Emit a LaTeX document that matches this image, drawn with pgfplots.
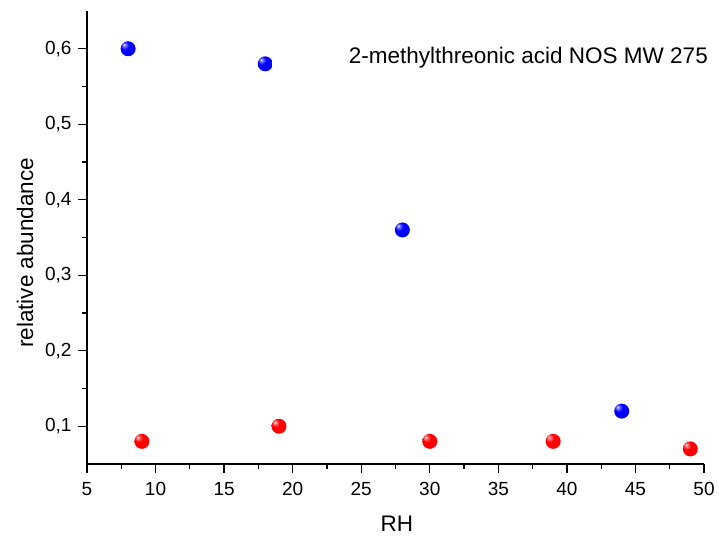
\documentclass[border=0pt]{standalone}
\usepackage{fontspec}
\setmainfont{Liberation Sans}
\usepackage{pgfplots}
\pgfplotsset{compat=1.18}

% glossy sphere shadings for the markers
\pgfdeclareradialshading{blueball}{\pgfpoint{-14bp}{14bp}}{%
  color(0bp)=(white); color(5bp)=(blue!55!white); color(14bp)=(blue);
  color(45bp)=(blue); color(70bp)=(blue!70!black)}
\pgfdeclareradialshading{redball}{\pgfpoint{-14bp}{14bp}}{%
  color(0bp)=(white); color(5bp)=(red!55!white); color(14bp)=(red);
  color(45bp)=(red); color(70bp)=(red!70!black)}
\pgfdeclareplotmark{blueball}{%
  \pgfpathcircle{\pgfpointorigin}{\pgfplotmarksize}%
  \pgfshadepath{blueball}{0}\pgfusepath{}}
\pgfdeclareplotmark{redball}{%
  \pgfpathcircle{\pgfpointorigin}{\pgfplotmarksize}%
  \pgfshadepath{redball}{0}\pgfusepath{}}

\begin{document}
\begin{tikzpicture}[x=1pt,y=1pt]
\useasboundingbox (-87,-76) rectangle (632,464);
\begin{axis}[
  at={(0,0)}, anchor=origin,
  scale only axis, width=617pt, height=453pt,
  xmin=5, xmax=50, ymin=0.05, ymax=0.65,
  axis x line*=bottom, axis y line*=left,
  axis line style={line width=1.6pt, -},
  every tick/.style={black, line width=1.3pt},
  tick align=outside,
  major tick length=9pt, minor tick length=5pt,
  xtick={5,10,...,50}, ytick={0.1,0.2,0.3,0.4,0.5,0.6},
  minor x tick num=1, minor y tick num=1,
  xticklabel={\pgfmathprintnumber[fixed, precision=0, assume math mode=true]{\tick}},
  yticklabel={\pgfmathprintnumber[fixed, fixed zerofill, precision=1, use comma, assume math mode=true]{\tick}},
  tick label style={font=\fontsize{19}{22}\selectfont},
  xticklabel style={yshift=-6pt},
  yticklabel style={xshift=-3pt},
  label style={font=\fontsize{22.5}{26}\selectfont},
  xlabel={RH}, ylabel={relative abundance},
  xlabel style={at={(axis description cs:0.5024,-0.150)}, anchor=base},
  ylabel style={at={(axis description cs:-0.0875,0.466)}, anchor=base},
  clip=false,
]
% high-abundance series
\addplot[only marks, mark=blueball, mark size=7.5pt] coordinates {
  (8,0.60) (18,0.58) (28,0.36) (44,0.12)
};
% low-abundance series
\addplot[only marks, mark=redball, mark size=7.5pt] coordinates {
  (9,0.08) (19,0.10) (30,0.08) (39,0.08) (49,0.07)
};
\node[anchor=base east, inner sep=0pt, font=\fontsize{22.5}{26}\selectfont]
  at (rel axis cs:1.0065,0.885) {2-methylthreonic acid NOS MW 275};
\end{axis}
\end{tikzpicture}
\end{document}
